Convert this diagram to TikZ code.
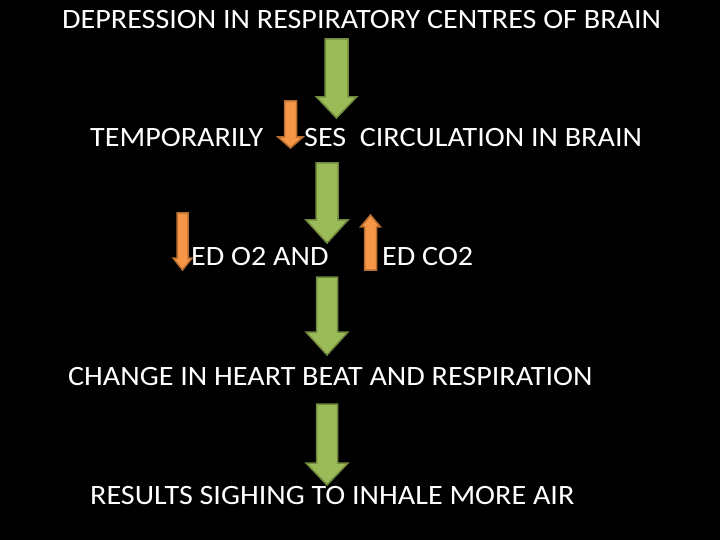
\documentclass[tikz,border=0pt]{standalone}
\usepackage{fontspec}
\newfontfamily\slidefont[FakeStretch=1.075]{Carlito}
\usepackage{xcolor}
\definecolor{arrowgreen}{RGB}{155,187,89}
\definecolor{greenedge}{RGB}{113,137,62}
\definecolor{arroworange}{RGB}{247,150,70}
\definecolor{orangeedge}{RGB}{182,109,47}
% block arrow: fill, edge, centre x, tail y, head start y, tip y, shaft half, head half
\newcommand{\blockarrow}[8]{%
  \filldraw[fill=#1,draw=#2,line width=1.5pt,line join=miter]
    ({#3-#7},#4) -- ({#3+#7},#4) -- ({#3+#7},#5) -- ({#3+#8},#5)
    -- (#3,#6) -- ({#3-#8},#5) -- ({#3-#7},#5) -- cycle;}
\tikzset{
  slidetext/.style={text=white,anchor=base west,inner sep=0pt,
    font=\slidefont\fontsize{28}{34}\selectfont}
}

\begin{document}
\begin{tikzpicture}[x=1pt,y=-1pt]
  \fill[black] (0,0) rectangle (720,540);
  \useasboundingbox (0,0) rectangle (720,540);
  % texts
  \node[slidetext] (depression) at (62,29) {DEPRESSION IN RESPIRATORY CENTRES OF BRAIN};
  \node[slidetext] (temporarily) at (90,147) {TEMPORARILY};
  \node[slidetext] (circulation) at (304,147) {SES\ \ CIRCULATION IN BRAIN};
  \node[slidetext] (oxygen) at (191,265) {ED O2 AND};
  \node[slidetext] (carbon) at (382,265) {ED CO2};
  \node[slidetext] (heartbeat) at (68,385) {CHANGE IN HEART BEAT AND RESPIRATION};
  \node[slidetext] (sighing) at (90,504) {RESULTS SIGHING TO INHALE MORE AIR};
  % green arrows
  \blockarrow{arrowgreen}{greenedge}{336.5}{39}{97}{118}{11.5}{20}
  \blockarrow{arrowgreen}{greenedge}{327}{163}{220}{243}{11}{21}
  \blockarrow{arrowgreen}{greenedge}{327}{277}{332}{355}{10.5}{21}
  \blockarrow{arrowgreen}{greenedge}{327}{404}{463}{485}{10.5}{21}
  % orange arrows
  \blockarrow{arroworange}{orangeedge}{290.5}{101}{137}{148}{6}{12.5}
  \blockarrow{arroworange}{orangeedge}{182.5}{213}{258}{270}{5.5}{9.5}
  \blockarrow{arroworange}{orangeedge}{370.5}{270}{227}{215}{6}{10}
\end{tikzpicture}
\end{document}
